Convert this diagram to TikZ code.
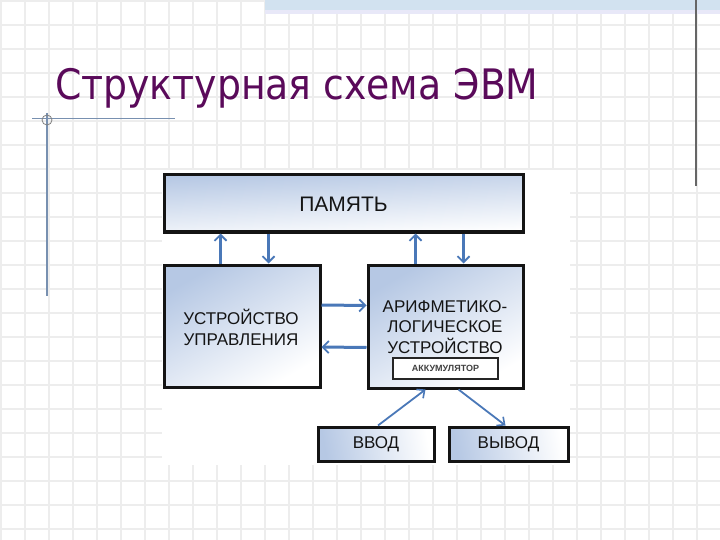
\documentclass[tikz,border=0pt]{standalone}
\usepackage{fontspec}
\setmainfont{Liberation Sans}
\newfontfamily\titlefont{DejaVu Sans Condensed}
\usetikzlibrary{arrows.meta,shadings}
\definecolor{gridc}{HTML}{EDEDED}
\definecolor{titlec}{HTML}{5A0A5A}
\definecolor{boxblue}{HTML}{B6C8E4}
\definecolor{arrc}{HTML}{4A78B8}
\definecolor{bandc}{HTML}{D2E2F0}
\definecolor{bandl}{HTML}{E8E8F8}
\definecolor{framec}{HTML}{7890B0}
\definecolor{txtc}{HTML}{141414}
\tikzset{
  gridline/.style={draw=gridc,line width=1.2pt},
  blockbox/.style={draw=black!92,line width=3pt,inner sep=0pt,text=txtc,font=\fontsize{17}{21}\selectfont},
  blocktext/.style={text=txtc,font=\fontsize{17}{21}\selectfont,align=center,inner sep=0pt},
  arr/.style={draw=arrc,line width=3pt,-{Straight Barb[length=6pt,width=12pt,line width=1.8pt]}},
  thinarr/.style={draw=arrc,line width=1.8pt,-{Straight Barb[length=6pt,width=11pt,line width=1.6pt]}}
}
\begin{document}
\begin{tikzpicture}[x=1pt,y=-1pt]
\useasboundingbox (0,0) rectangle (720,540);
\fill[white] (0,0) rectangle (720,540);
% grid
\foreach \i in {1,25,...,721} \draw[gridline] (\i,0) -- (\i,540);
\foreach \j in {1,25,...,540} \draw[gridline] (0,\j) -- (720,\j);
% top band
\fill[bandc] (265,0) rectangle (720,10);
\fill[bandl] (265,10) rectangle (720,14);
% right line
\draw[gray!80!black,line width=1.4pt] (696,0) -- (696,186);
% left cross
\draw[framec,line width=1pt] (32,119) -- (175,119);
\draw[framec,line width=1.2pt] (47,113) -- (47,296);
\draw[gray,line width=0.8pt] (47,120) circle (5);
% title
\node[anchor=base west,inner sep=0pt,text=titlec,font=\titlefont\fontsize{42}{50}\selectfont] (title) at (55,100) {Структурная схема ЭВМ};
% diagram background
\fill[white] (162,170) rectangle (570,465);
% boxes
\node[blockbox,minimum width=359pt,minimum height=57pt,top color=boxblue,bottom color=white,shading angle=3] (mem) at (343.5,203.5) {};
\node[blocktext,font=\fontsize{21}{24}\selectfont] (memt) at (343.5,204) {ПАМЯТЬ};
\node[blockbox,minimum width=156pt,minimum height=122pt,top color=boxblue,bottom color=white,shading angle=30] (uu) at (242,326) {};
\node[blocktext] (uut) at (241,327) {УСТРОЙСТВО\\УПРАВЛЕНИЯ};
\node[blockbox,minimum width=155pt,minimum height=123pt,top color=boxblue,bottom color=white,shading angle=30] (alu) at (445.5,326.5) {};
\node[blocktext,font=\fontsize{17}{20.5}\selectfont] (alut) at (445,327) {АРИФМЕТИКО-\\ЛОГИЧЕСКОЕ\\УСТРОЙСТВО};
\node[draw=black!85,line width=1.8pt,fill=white,minimum width=105pt,minimum height=21pt,inner sep=0pt,font=\bfseries\fontsize{9}{10}\selectfont,text=black!75] (acc) at (445.5,368.5) {АККУМУЛЯТОР};
\node[blockbox,minimum width=116pt,minimum height=34pt,left color=boxblue,right color=white,shading angle=100] (vvod) at (376,444) {ВВОД};
\node[blockbox,minimum width=119pt,minimum height=34pt,left color=boxblue,right color=white,shading angle=100] (vyvod) at (508.5,444) {ВЫВОД};
% arrows
\draw[arr] ([xshift=58pt]uu.north west) -- ([xshift=58pt]mem.south west);
\draw[arr] ([xshift=106pt]mem.south west) -- ([xshift=106pt]uu.north west);
\draw[arr] ([xshift=49pt]alu.north west) -- ([xshift=253pt]mem.south west);
\draw[arr] ([xshift=301pt]mem.south west) -- ([xshift=97pt]alu.north west);
\draw[arr] ([yshift=21pt]uu.east) -- ([yshift=21pt]alu.west);
\draw[arr] ([yshift=-21pt]alu.west) -- ([yshift=-21pt]uu.east);
\draw[thinarr] ([xshift=2pt]vvod.north) -- ([xshift=-20pt]alu.south);
\draw[thinarr] ([xshift=13pt]alu.south) -- ([xshift=-3pt]vyvod.north);
\end{tikzpicture}
\end{document}
